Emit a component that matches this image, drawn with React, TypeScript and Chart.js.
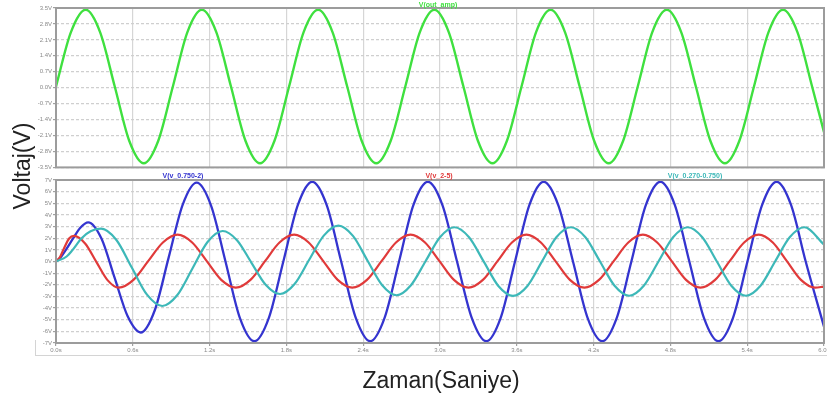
import React, { useEffect, useRef } from "react";
import { Chart, registerables } from "chart.js";

Chart.register(...registerables);

// ---- tick values / labels ----
const xTickValues = [0, 0.6, 1.2, 1.8, 2.4, 3.0, 3.6, 4.2, 4.8, 5.4, 6.0];
const xTickLabels = ["0.0s", "0.6s", "1.2s", "1.8s", "2.4s", "3.0s", "3.6s", "4.2s", "4.8s", "5.4s", "6.0s"];
const topTickValues = [-3.5, -2.8, -2.1, -1.4, -0.7, 0, 0.7, 1.4, 2.1, 2.8, 3.5];
const topTickLabels = ["-3.5V", "-2.8V", "-2.1V", "-1.4V", "-0.7V", "0.0V", "0.7V", "1.4V", "2.1V", "2.8V", "3.5V"];
const bottomTickValues = [-7, -6, -5, -4, -3, -2, -1, 0, 1, 2, 3, 4, 5, 6, 7];
const bottomTickLabels = ["-7V", "-6V", "-5V", "-4V", "-3V", "-2V", "-1V", "0V", "1V", "2V", "3V", "4V", "5V", "6V", "7V"];

// ---- series names ----
const topSeriesName = "V(out_amp)";
const blueName = "V(v_0.750-2)";
const redName = "V(v_2-5)";
const cyanName = "V(v_0.270-0.750)";

// ---- V(out_amp) ----
const greenT = [0, 0.116, 0.232, 0.345, 0.459, 0.572, 0.686, 0.799, 0.913, 1.026, 1.14, 1.253, 1.367, 1.48, 1.594, 1.707, 1.821, 1.934, 2.048, 2.161, 2.275, 2.388, 2.502, 2.615, 2.729, 2.842, 2.956, 3.069, 3.183, 3.296, 3.41, 3.523, 3.637, 3.75, 3.864, 3.977, 4.091, 4.204, 4.318, 4.431, 4.545, 4.658, 4.772, 4.885, 4.999, 5.112, 5.226, 5.339, 5.453, 5.566, 5.68, 5.793, 5.907, 6.0];
const greenV = [0.05, 2.43, 3.42, 2.43, 0.05, -2.33, -3.32, -2.33, 0.05, 2.43, 3.42, 2.43, 0.05, -2.33, -3.32, -2.33, 0.05, 2.43, 3.42, 2.43, 0.05, -2.33, -3.32, -2.33, 0.05, 2.43, 3.42, 2.43, 0.05, -2.33, -3.32, -2.33, 0.05, 2.43, 3.42, 2.43, 0.05, -2.33, -3.32, -2.33, 0.05, 2.43, 3.42, 2.43, 0.05, -2.33, -3.32, -2.33, 0.05, 2.43, 3.42, 2.43, 0.05, -1.95];

// ---- V(v_0.750-2) ----
const blueT = [0, 0.04, 0.083, 0.135, 0.19, 0.252, 0.355, 0.457, 0.56, 0.662, 0.771, 0.88, 0.99, 1.099, 1.212, 1.325, 1.437, 1.55, 1.663, 1.776, 1.889, 2.002, 2.115, 2.228, 2.342, 2.455, 2.567, 2.68, 2.792, 2.905, 3.019, 3.133, 3.248, 3.362, 3.474, 3.586, 3.698, 3.81, 3.924, 4.039, 4.153, 4.268, 4.381, 4.495, 4.608, 4.722, 4.835, 4.948, 5.062, 5.175, 5.289, 5.402, 5.516, 5.63, 5.743, 5.857, 6.0];
const blueV = [0, 0.4, 1.1, 2.0, 2.9, 3.36, 1.97, -1.37, -4.71, -6.1, -4.21, 0.33, 4.88, 6.77, 4.78, -0.04, -4.86, -6.85, -4.84, 0, 4.84, 6.85, 4.84, 0, -4.84, -6.85, -4.84, 0, 4.84, 6.85, 4.84, 0, -4.84, -6.85, -4.84, 0, 4.84, 6.85, 4.84, 0, -4.84, -6.85, -4.84, 0, 4.84, 6.85, 4.84, 0, -4.84, -6.85, -4.84, 0, 4.84, 6.85, 4.84, 0, -5.6];

// ---- V(v_2-5) ----
const redT = [0, 0.03, 0.057, 0.104, 0.14, 0.2275, 0.315, 0.4025, 0.49, 0.605, 0.72, 0.835, 0.95, 1.064, 1.178, 1.291, 1.405, 1.519, 1.633, 1.746, 1.86, 1.974, 2.088, 2.201, 2.315, 2.429, 2.543, 2.656, 2.77, 2.883, 2.996, 3.109, 3.222, 3.335, 3.449, 3.562, 3.675, 3.788, 3.902, 4.015, 4.128, 4.242, 4.357, 4.471, 4.585, 4.697, 4.81, 4.922, 5.035, 5.149, 5.263, 5.376, 5.49, 5.6, 5.71, 5.82, 5.93, 6.0];
const redV = [0, 0.35, 1.0, 2.0, 2.2, 1.55, -0.03, -1.6, -2.25, -1.58, 0.03, 1.63, 2.3, 1.63, 0.03, -1.58, -2.25, -1.58, 0.03, 1.63, 2.3, 1.63, 0.03, -1.58, -2.25, -1.58, 0.03, 1.63, 2.3, 1.63, 0.03, -1.58, -2.25, -1.58, 0.03, 1.63, 2.3, 1.63, 0.03, -1.58, -2.25, -1.58, 0.03, 1.63, 2.3, 1.63, 0.03, -1.58, -2.25, -1.58, 0.03, 1.63, 2.3, 1.63, 0.03, -1.58, -2.25, -2.15];

// ---- V(v_0.270-0.750) ----
const cyanT = [0, 0.083, 0.13, 0.2, 0.27, 0.352, 0.472, 0.591, 0.711, 0.83, 0.948, 1.066, 1.184, 1.302, 1.414, 1.526, 1.638, 1.75, 1.864, 1.978, 2.092, 2.206, 2.32, 2.433, 2.547, 2.66, 2.773, 2.887, 3.0, 3.113, 3.227, 3.342, 3.456, 3.57, 3.683, 3.796, 3.909, 4.022, 4.136, 4.25, 4.364, 4.478, 4.592, 4.707, 4.821, 4.935, 5.049, 5.163, 5.276, 5.39, 5.504, 5.618, 5.732, 5.846, 6.0];
const cyanV = [0, 0.43, 1.0, 2.0, 2.6, 2.82, 1.85, -0.5, -2.85, -3.82, -2.88, -0.6, 1.68, 2.62, 1.83, -0.09, -2.0, -2.79, -1.93, 0.15, 2.22, 3.08, 2.2, 0.09, -2.02, -2.9, -2.04, 0.02, 2.08, 2.94, 2.08, -0.01, -2.1, -2.96, -2.1, -0.01, 2.08, 2.94, 2.08, 0, -2.08, -2.94, -2.08, 0, 2.08, 2.94, 2.08, 0, -2.08, -2.94, -2.08, 0, 2.08, 2.94, 1.45];

const GREEN = "#3fe03f";
const BLUE = "#3434cf";
const RED = "#e03a3a";
const CYAN = "#3db8b8";

const pts = (t: number[], v: number[]) => t.map((x, i) => ({ x, y: v[i] }));
const labelFor = (vals: number[], labels: string[]) => (value: any) => {
  const i = vals.findIndex((t) => Math.abs(t - Number(value)) < 1e-6);
  return i >= 0 ? labels[i] : "";
};

const framePlugin = {
  id: "frame",
  afterDraw(chart: any) {
    const { ctx, chartArea: a } = chart;
    ctx.save();
    ctx.strokeStyle = "#9c9c9c";
    ctx.lineWidth = 2;
    ctx.strokeRect(a.left, a.top, a.right - a.left, a.bottom - a.top);
    ctx.restore();
  },
};

const tickFont = { family: "Liberation Sans, Arial, sans-serif", size: 6 };
const CANVAS_W = 844;
const PAD_RIGHT = CANVAS_W - 824;

function makeOptions(yVals: number[], yLabels: string[], showX: boolean, xHeight: number): any {
  return {
    responsive: false,
    maintainAspectRatio: false,
    animation: false,
    devicePixelRatio: 1,
    layout: { padding: { top: 8, right: PAD_RIGHT, left: 0, bottom: 0 } },
    plugins: { legend: { display: false }, tooltip: { enabled: false }, title: { display: false } },
    elements: { point: { radius: 0 } },
    scales: {
      x: {
        type: "linear",
        min: 0,
        max: 6,
        afterBuildTicks: (s: any) => {
          s.ticks = xTickValues.map((v) => ({ value: v }));
        },
        afterFit: (s: any) => {
          s.height = xHeight;
        },
        ticks: {
          display: showX,
          color: "#8a8a8a",
          font: tickFont,
          padding: 1,
          maxRotation: 0,
          autoSkip: false,
          callback: labelFor(xTickValues, xTickLabels),
        },
        grid: {
          color: "#d6d6d6",
          lineWidth: 1.2,
          drawTicks: showX,
          tickLength: 3,
          tickColor: "#a0a0a0",
        },
        border: { display: false },
      },
      y: {
        type: "linear",
        min: yVals[0],
        max: yVals[yVals.length - 1],
        afterBuildTicks: (s: any) => {
          s.ticks = yVals.map((v) => ({ value: v }));
        },
        afterFit: (s: any) => {
          s.width = 56;
        },
        ticks: {
          color: "#8a8a8a",
          font: tickFont,
          padding: 1,
          autoSkip: false,
          callback: labelFor(yVals, yLabels),
        },
        grid: {
          color: "#cfcfcf",
          lineWidth: 1.2,
          drawTicks: true,
          tickLength: 3,
          tickColor: "#a0a0a0",
        },
        border: { display: false, dash: [3, 2] },
      },
    },
  };
}

function lineDs(label: string, t: number[], v: number[], color: string, w: number) {
  return {
    label,
    data: pts(t, v),
    borderColor: color,
    backgroundColor: color,
    borderWidth: w,
    pointRadius: 0,
    fill: false,
    cubicInterpolationMode: "monotone",
  };
}

export default function App() {
  const topRef = useRef<HTMLCanvasElement>(null);
  const botRef = useRef<HTMLCanvasElement>(null);

  useEffect(() => {
    const top = new Chart(topRef.current as HTMLCanvasElement, {
      type: "line",
      data: { datasets: [lineDs(topSeriesName, greenT, greenV, GREEN, 2.4) as any] },
      options: makeOptions(topTickValues, topTickLabels, false, 4),
      plugins: [framePlugin],
    });
    const bot = new Chart(botRef.current as HTMLCanvasElement, {
      type: "line",
      data: {
        datasets: [
          lineDs(cyanName, cyanT, cyanV, CYAN, 2.2) as any,
          lineDs(redName, redT, redV, RED, 2.2) as any,
          lineDs(blueName, blueT, blueV, BLUE, 2.3) as any,
        ],
      },
      options: makeOptions(bottomTickValues, bottomTickLabels, true, 58),
      plugins: [framePlugin],
    });
    return () => {
      top.destroy();
      bot.destroy();
    };
  }, []);

  const small: React.CSSProperties = {
    position: "absolute",
    fontFamily: "Liberation Sans, Arial, sans-serif",
    fontSize: 7,
    fontWeight: "bold",
    transform: "translate(-50%, -50%)",
    whiteSpace: "nowrap",
    lineHeight: 1,
  };

  return (
    <div style={{ position: "absolute", left: 0, top: 0, width: 827, height: 401, background: "#fff", overflow: "hidden" }}>
      <canvas ref={topRef} width={CANVAS_W} height={172} style={{ position: "absolute", left: 0, top: 0, width: CANVAS_W, height: 172 }} />
      <canvas ref={botRef} width={CANVAS_W} height={229} style={{ position: "absolute", left: 0, top: 172, width: CANVAS_W, height: 229 }} />
      <div style={{ ...small, left: 438, top: 4, color: GREEN }}>{topSeriesName}</div>
      <div style={{ ...small, left: 183, top: 175, color: BLUE }}>{blueName}</div>
      <div style={{ ...small, left: 439, top: 175, color: RED }}>{redName}</div>
      <div style={{ ...small, left: 695, top: 175, color: CYAN }}>{cyanName}</div>
      <div style={{ position: "absolute", left: 35, top: 355, width: 792, height: 1, background: "#d4d4d4" }} />
      <div style={{ position: "absolute", left: 35, top: 340, width: 1, height: 16, background: "#d4d4d4" }} />
      <div
        style={{
          position: "absolute",
          left: 22,
          top: 166,
          transform: "translate(-50%, -50%) rotate(-90deg)",
          fontFamily: "Liberation Sans, Arial, sans-serif",
          fontSize: 23,
          color: "#222",
          whiteSpace: "nowrap",
          lineHeight: 1,
        }}
      >
        Voltaj(V)
      </div>
      <div
        style={{
          position: "absolute",
          left: 441,
          top: 380,
          transform: "translate(-50%, -50%)",
          fontFamily: "Liberation Sans, Arial, sans-serif",
          fontSize: 23,
          color: "#222",
          whiteSpace: "nowrap",
          lineHeight: 1,
        }}
      >
        Zaman(Saniye)
      </div>
    </div>
  );
}
